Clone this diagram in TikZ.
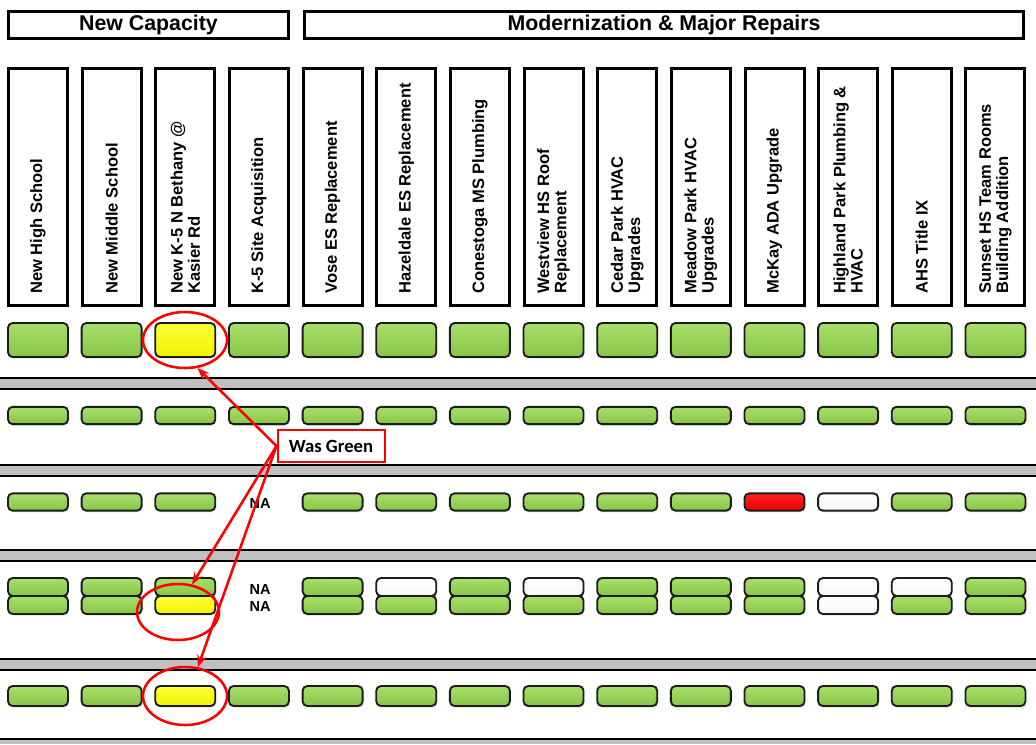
\documentclass[tikz,border=0pt]{standalone}
\usepackage{fontspec}
\setmainfont{Liberation Sans}
\newfontfamily\carlito{Carlito}
\usetikzlibrary{shapes.geometric,shadows,arrows.meta}
\definecolor{gA}{HTML}{A8DF6C}
\definecolor{gB}{HTML}{86C646}
\definecolor{yA}{HTML}{FFFF3A}
\definecolor{yB}{HTML}{F2F200}
\definecolor{rA}{HTML}{FF2020}
\definecolor{rB}{HTML}{E80000}
\definecolor{edge}{HTML}{1C1C1C}
\definecolor{sepgray}{HTML}{C0C0C0}
\definecolor{annot}{HTML}{FF0000}
\begin{document}
\begin{tikzpicture}[x=0.75pt,y=-0.75pt,
  hdrbox/.style={draw=black, line width=2.25pt, inner sep=0pt},
  colbox/.style={hdrbox, minimum width=44.25pt, minimum height=177.75pt},
  collbl/.style={rotate=90, anchor=west, inner sep=0pt, align=left,
    font=\fontsize{12.4}{12.9}\selectfont\bfseries},
  stat/.style={draw=edge, line width=1.4pt, rounded corners=3.5pt,
    minimum width=45pt, inner sep=0pt,
    drop shadow={opacity=0.25, shadow xshift=0.6pt, shadow yshift=-1.2pt}},
  rowbig/.style={stat, minimum height=25.5pt},
  rowslim/.style={stat, minimum height=13pt},
  rowdbl/.style={stat, minimum height=13.5pt},
  rowlow/.style={stat, minimum height=15pt},
  box-g/.style={top color=gA, bottom color=gB},
  box-y/.style={top color=yA, bottom color=yB},
  box-r/.style={top color=rA, bottom color=rB},
  box-w/.style={top color=white, bottom color=gray!6},
  natext/.style={font=\fontsize{10.9}{12}\selectfont\bfseries, inner sep=0pt},
  ring/.style={ellipse, draw=annot, line width=1.9pt, inner sep=0pt},
  arr/.style={draw=annot, line width=1.9pt, -{Stealth[length=9pt,width=7pt]}}
]
\useasboundingbox (0,0) rectangle (1036,744);

% separators
\foreach \y in {378,465,550,659} {
  \fill[sepgray] (0,\y) rectangle (1036,\y+11);
  \draw[line width=1.5pt] (0,\y) -- (1036,\y) (0,\y+11) -- (1036,\y+11);
}
\fill[sepgray] (0,739) rectangle (1036,744);
\draw[line width=1.5pt] (0,739) -- (1036,739);

% top headers
\node[hdrbox, minimum width=210pt, minimum height=20.25pt,
  font=\fontsize{16}{18}\selectfont\bfseries] (capacity) at (148.5,25) {New Capacity};
\node[hdrbox, minimum width=539.25pt, minimum height=20.25pt,
  font=\fontsize{16}{18}\selectfont\bfseries] (modern) at (664,25) {Modernization \& Major Repairs};

% column headers
\foreach \t [count=\n from 0] in {
  New High School,
  New Middle School,
  New K-5 N Bethany @\\Kasier Rd,
  K-5 Site Acquisition,
  Vose ES Replacement,
  Hazeldale ES Replacement,
  Conestoga MS Plumbing,
  Westview HS Roof\\Replacement,
  Cedar Park HVAC\\Upgrades,
  Meadow Park HVAC\\Upgrades,
  McKay ADA Upgrade,
  Highland Park Plumbing \&\\HVAC,
  AHS Title IX,
  Sunset HS Team Rooms\\Building Addition} {
  \node[colbox] (col\n) at ({38+73.65*\n},187) {};
  \node[collbl] (lbl\n) at ({38+73.65*\n},294) {\t};
}

% row 1
\foreach \i/\c in {0/g,1/g,2/y,3/g,4/g,5/g,6/g,7/g,8/g,9/g,10/g,11/g,12/g,13/g}
  \node[rowbig, box-\c] (ra\i) at ({38+73.65*\i},340) {};

% row 2
\foreach \i/\c in {0/g,1/g,2/g,3/g,4/g,5/g,6/g,7/g,8/g,9/g,10/g,11/g,12/g,13/g}
  \node[rowslim, box-\c] (rb\i) at ({38+73.65*\i},415.5) {};

% row 3
\foreach \i/\c in {0/g,1/g,2/g,4/g,5/g,6/g,7/g,8/g,9/g,10/r,11/w,12/g,13/g}
  \node[rowslim, box-\c] (rc\i) at ({38+73.65*\i},502) {};
\node[natext] (na3) at (260,503) {NA};

% row 4 (two parts)
\foreach \i/\c in {0/g,1/g,2/g,4/g,5/w,6/g,7/w,8/g,9/g,10/g,11/w,12/w,13/g}
  \node[rowdbl, box-\c] (rdt\i) at ({38+73.65*\i},587) {};
\foreach \i/\c in {0/g,1/g,2/y,4/g,5/g,6/g,7/g,8/g,9/g,10/g,11/w,12/g,13/g}
  \node[rowdbl, box-\c] (rdb\i) at ({38+73.65*\i},605) {};
\node[natext] (na4a) at (260,589) {NA};
\node[natext] (na4b) at (260,606) {NA};

% row 5
\foreach \i/\c in {0/g,1/g,2/y,3/g,4/g,5/g,6/g,7/g,8/g,9/g,10/g,11/g,12/g,13/g}
  \node[rowlow, box-\c] (re\i) at ({38+73.65*\i},696) {};

% annotations
\node[ring, minimum width=63pt, minimum height=42pt] (e1) at (185,340) {};
\node[ring, minimum width=61.5pt, minimum height=42pt] (e2) at (178,612) {};
\node[ring, minimum width=63pt, minimum height=43.5pt] (e3) at (185,696) {};
\node[draw=annot, line width=1.5pt, fill=white, minimum width=80.25pt,
  minimum height=24pt, inner sep=0pt, font=\carlito\fontsize{14}{16}\selectfont\bfseries]
  (wg) at (331,446) {Was Green};
\draw[arr] (wg.west) -- (e1.-66);
\draw[arr] (wg.west) -- (e2.63);
\draw[arr] (wg.west) -- (e3.66);
\end{tikzpicture}
\end{document}
